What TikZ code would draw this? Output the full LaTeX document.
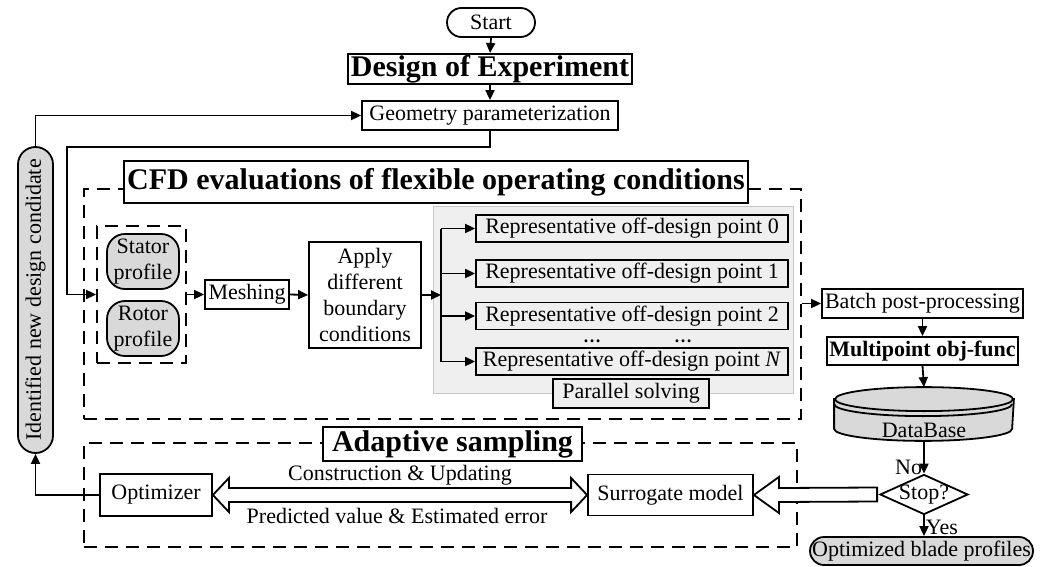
\documentclass[tikz,border=0pt]{standalone}
\usepackage{fontspec}
\setmainfont{Liberation Serif}
\usetikzlibrary{arrows.meta,calc,shapes.geometric}
\definecolor{cgray}{HTML}{D9D9D9}
\definecolor{lgray}{HTML}{EFEFEF}
\definecolor{lborder}{HTML}{C8C8C8}
\begin{document}
\begin{tikzpicture}[x=1pt,y=-1pt,
  line width=1.8pt,
  pbox/.style={draw, inner sep=0pt, align=center, font=\fontsize{22}{26}\selectfont},
  gbox/.style={pbox, fill=cgray},
  ttlbox/.style={pbox, fill=white, line width=2pt, font=\fontsize{30}{34}\selectfont\bfseries},
  dbox/.style={draw, dash pattern=on 13pt off 8pt, inner sep=0pt},
  arr/.style={-{Triangle[length=10pt,width=9pt]}},
  txt/.style={font=\fontsize{22}{26}\selectfont, inner sep=1pt},
  hollow/.style={draw, fill=white, line width=1.8pt, line join=miter}
]
\useasboundingbox (0,0) rectangle (1049,567);

% frames
\node[dbox, minimum width=717, minimum height=230] (cfd) at (442.5,304) {};
\node[dbox, minimum width=713, minimum height=104] (ada) at (440.5,495) {};
\node[draw=lborder, line width=0.8pt, fill=lgray, minimum width=360, minimum height=187, inner sep=0pt] (par) at (613,299.5) {};

\node[ttlbox, minimum width=624, minimum height=42] (cfdt) at (436,182) {CFD evaluations of flexible operating conditions};
\node[ttlbox, minimum width=259, minimum height=34] (adat) at (452.5,444) {Adaptive sampling};

% top
\node[pbox, rounded corners=14.5pt, minimum width=88, minimum height=29] (start) at (491,22.5) {Start};
\node[pbox, line width=2pt, font=\fontsize{30}{34}\selectfont\bfseries, minimum width=284, minimum height=30] (doe) at (490,69) {Design of Experiment};
\node[pbox, minimum width=256, minimum height=29] (geo) at (490,115.5) {Geometry parameterization};

% left
\node[gbox, rotate=90, rounded corners=17.5pt, minimum width=306, minimum height=35] (ident) at (35.5,300) {Identified new design condidate};

\node[dbox, minimum width=89, minimum height=137] (inbox) at (141.5,294.5) {};
\node[gbox, rounded corners=18pt, minimum width=72, minimum height=55] (stator) at (143,261.5) {Stator\\profile};
\node[gbox, rounded corners=18pt, minimum width=72, minimum height=55] (rotor) at (143,328.5) {Rotor\\profile};
\node[pbox, minimum width=84, minimum height=29] (mesh) at (247,294.5) {Meshing};
\node[pbox, minimum width=112, minimum height=106] (apply) at (365,295) {Apply\\different\\boundary\\conditions};

% parallel solving
\node[pbox, minimum width=312, minimum height=27] (r0) at (632,228.5) {Representative off-design point 0};
\node[pbox, minimum width=312, minimum height=27] (r1) at (632,273.5) {Representative off-design point 1};
\node[pbox, minimum width=312, minimum height=27] (r2) at (632,316) {Representative off-design point 2};
\node[pbox, minimum width=312, minimum height=27] (rN) at (632,361.5) {Representative off-design point \textit{N}};
\node[font=\fontsize{18}{20}\selectfont\bfseries, inner sep=0pt, anchor=base] (dots1) at (592,342) {\smash{…}};
\node[font=\fontsize{18}{20}\selectfont\bfseries, inner sep=0pt, anchor=base] (dots2) at (683,342) {\smash{…}};
\node[pbox, fill=lgray, minimum width=156, minimum height=29] (psolve) at (631,393.5) {Parallel solving};

% right column
\node[pbox, minimum width=201, minimum height=29] (batch) at (922.5,303.5) {Batch post-processing};
\node[pbox, font=\fontsize{22}{26}\selectfont\bfseries, minimum width=191, minimum height=28] (multi) at (922.5,351) {Multipoint obj-func};
\node[inner sep=0pt, minimum width=178, minimum height=52] (db) at (924,414) {};
\draw[fill=cgray] ($(db.north west)+(0,12)$) -- ($(db.south west)+(0,-12)$)
  arc[start angle=180,end angle=360,x radius=89pt,y radius=12pt]
  -- ($(db.north east)+(0,12)$) -- cycle;
\draw[fill=cgray] ($(db.north)+(0,12)$) ellipse[x radius=89pt, y radius=12pt];
\draw ($(db.north west)+(0,17)$) arc[start angle=180,end angle=360,x radius=89pt,y radius=12pt];
\node[txt] (dbtext) at ($(db.south)+(0,-10)$) {DataBase};

\node[diamond, draw, inner sep=0pt, aspect=2.2, minimum width=88, minimum height=40, font=\fontsize{22}{26}\selectfont] (stop) at (924,494.5) {\smash{\raisebox{-5pt}{Stop?}}};
\node[gbox, rounded corners=14pt, minimum width=223, minimum height=28] (optb) at (921.5,551) {Optimized blade profiles};

% adaptive sampling
\node[pbox, minimum width=112, minimum height=42] (opt) at (156,495) {Optimizer};
\node[pbox, minimum width=165, minimum height=41] (sur) at (670.5,495) {Surrogate model};

\draw[hollow] (opt.east) -- ++(16,-17) -- ++(0,10) -- ($(sur.west)+(-16,-7)$) -- ++(0,-10)
  -- (sur.west) -- ++(-16,17) -- ++(0,-10) -- ($(opt.east)+(16,7)$) -- ++(0,10) -- cycle;
\node[txt] (lab1) at (400,475) {Construction \& Updating};
\node[txt] (lab2) at (397,516) {Predicted value \& Estimated error};

\draw[hollow] (sur.east) -- ++(25,-18) -- ++(0,11) -- ($(stop.west)+(-2,-7)$) -- ++(0,14)
  -- ($(sur.east)+(25,7)$) -- ++(0,11) -- cycle;

% connectors
\draw[arr] (start.south) -- (doe.north);
\draw[arr] (doe.south) -- (geo.north);
\draw[arr] (ident.east) |- (geo.west);
\coordinate (turn) at (67,147);
\draw[arr] (geo.south) |- (turn) |- (inbox.west);
\draw[arr] (inbox.east) -- (mesh.west);
\draw[arr] (mesh.east) -- (apply.west);
\coordinate (br) at (441,295);
\draw[arr] (apply.east) -- (br);
\draw (br |- r0.west) -- (br |- rN.west);
\draw[arr] (br |- r0.west) -- (r0.west);
\draw[arr] (br |- r1.west) -- (r1.west);
\draw[arr] (br |- r2.west) -- (r2.west);
\draw[arr] (br |- rN.west) -- (rN.west);
\draw[arr] (cfd.east |- batch.west) -- (batch.west);
\draw[arr] (batch.south) -- (multi.north);
\draw[arr] (multi.south) -- (db.north);
\draw[arr] (db.south) -- node[txt, pos=0.8, left] (nolab) {No} (stop.north);
\draw[arr] (stop.south) -- node[txt, pos=0.6, right] (yeslab) {Yes} (stop.south |- optb.north);
\draw[arr] (opt.west) -| (ident.west);
\end{tikzpicture}
\end{document}
